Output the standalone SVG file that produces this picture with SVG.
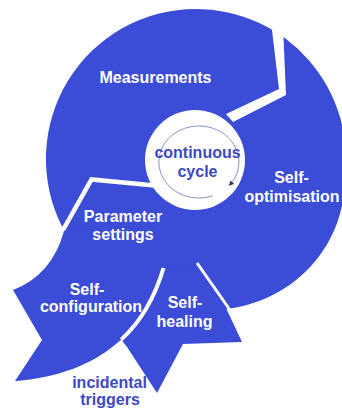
<svg xmlns="http://www.w3.org/2000/svg" width="342" height="414" viewBox="0 0 342 414">
<style>
.blue{fill:#3b4cd6}
.slit{fill:none;stroke:#ffffff;stroke-linejoin:miter}
.lbl{font-family:"Liberation Sans",Arial,sans-serif;font-weight:bold;font-size:16px;text-anchor:middle}
.w{fill:#ffffff}
.d{fill:#3d49c4}
</style>
<defs>
<marker id="ah" markerWidth="6" markerHeight="6" refX="4" refY="3" orient="auto" markerUnits="userSpaceOnUse">
<path d="M0,0.5 L5,3 L0,5.5 Z" fill="#333344"/>
</marker>
</defs>
<rect width="342" height="414" fill="#ffffff"/>
<g id="body">
<path class="blue" d="M62.3,227.1 A150,150 0 0 1 196,9 A150,150 0 0 1 344.5,180 C345,240 300,300 226,309 A150,150 0 0 1 62.3,227.1 Z"/>
<path id="self-configuration-shape" class="blue" d="M64,231 Q52,275 13,290 L42,340 L15,381 C60,378 135,360 163,272 L120,220 Z"/>
<path id="self-healing-shape" class="blue" d="M163,272 C153.5,302 138.5,323.75 121.2,339.6 L127,347 L157,393 L183,344 L242,342 L226,308 L198,268 Z"/>
</g>
<g id="separators">
<polygon class="w" points="271,22 279,89 226,114 233,122 286,95 283,26"/>
<polyline class="slit" stroke-width="4.5" points="160,186 91.5,179.5 63,230"/>
<path class="slit" stroke-width="4" d="M163.5,268 C153.5,302 138.5,323.75 121.2,339.6"/>
<line class="slit" stroke-width="3" x1="197" y1="263" x2="230" y2="310"/>
</g>
<g id="continuous-cycle">
<circle cx="195" cy="160" r="50" fill="#ffffff"/>
<path d="M212.7,195.8 A40,36 0 1 1 229.6,185.1" fill="none" stroke="#8a90c8" stroke-width="1" marker-end="url(#ah)"/>
<text class="lbl d" x="197.5" y="158">continuous</text>
<text class="lbl d" x="197.5" y="177">cycle</text>
</g>
<g id="measurements"><text class="lbl w" x="155.5" y="83">Measurements</text></g>
<g id="self-optimisation"><text class="lbl w" x="291.5" y="183">Self-</text><text class="lbl w" x="292" y="202">optimisation</text></g>
<g id="parameter-settings"><text class="lbl w" x="123" y="222">Parameter</text><text class="lbl w" x="123" y="240">settings</text></g>
<g id="self-configuration"><text class="lbl w" x="87" y="295">Self-</text><text class="lbl w" x="91" y="312">configuration</text></g>
<g id="self-healing"><text class="lbl w" x="185" y="308">Self-</text><text class="lbl w" x="184.5" y="327">healing</text></g>
<g id="incidental-triggers"><text class="lbl d" x="109.5" y="388">incidental</text><text class="lbl d" x="110" y="405">triggers</text></g>
</svg>
